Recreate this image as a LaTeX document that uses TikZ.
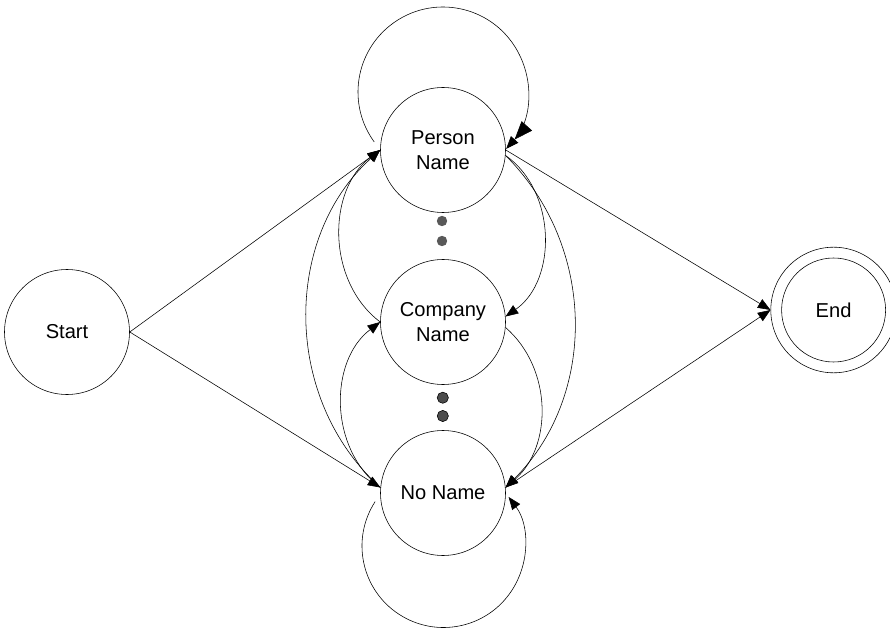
\documentclass[tikz,border=0pt]{standalone}
\usepackage{fontspec}
\setmainfont{Liberation Sans}
\usetikzlibrary{arrows.meta}
\tikzset{
  state/.style={circle, draw, minimum size=3.125cm, inner sep=0pt, align=center,
    font=\fontsize{14.3}{17.8}\selectfont},
  trans/.style={-{Triangle[length=9pt,width=7pt]}},
  bigtrans/.style={-{Triangle[length=13pt,width=10pt]Triangle[length=9pt,width=7pt]}}
}
\begin{document}
\begin{tikzpicture}
\useasboundingbox (0,0) rectangle (22.25,15.75);
\node[state] (start) at (1.675,7.45) {Start};
\node[state] (person) at (11.075,12) {Person\\Name};
\node[state] (company) at (11.075,7.7) {Company\\Name};
\node[state] (noname) at (11.075,3.425) {No Name};
\node[state, minimum size=3.14cm] (end) at (20.84,8) {End};
\draw (end.center) circle (1.3);
\foreach \y in {10.225, 9.725}
  \fill[black!65] (11.05,\y) circle (0.13);
\foreach \y in {5.807, 5.35}
  \draw[fill=black!70] (11.07,\y) circle (0.14);
\draw[trans] (start.east) -- (person.180);
\draw[trans] (start.east) -- (noname.175);
\draw[trans] (person.east) -- (end.west);
\draw[trans] (noname.5) -- (end.west);
\draw[trans] (person.355) to[bend left=55] (company.5);
\draw[trans] (company.355) to[bend left=49] (noname.5);
\draw[trans] (person.355) to[bend left=45] (noname.5);
\draw[trans] (company.180) to[bend left=53] (person.180);
\draw[trans] (noname.175) to[bend left=53] (company.180);
\draw[trans] (noname.175) to[bend left=48] (person.180);
\draw[bigtrans] (person.center) ++(0,1.45) ++(216:2.125) arc[start angle=216, end angle=-42, radius=2.125];
\draw[trans] (noname.center) ++(0.0125,-1.325) ++(147:2.0375) arc[start angle=147, end angle=397, radius=2.0375];
\end{tikzpicture}
\end{document}
